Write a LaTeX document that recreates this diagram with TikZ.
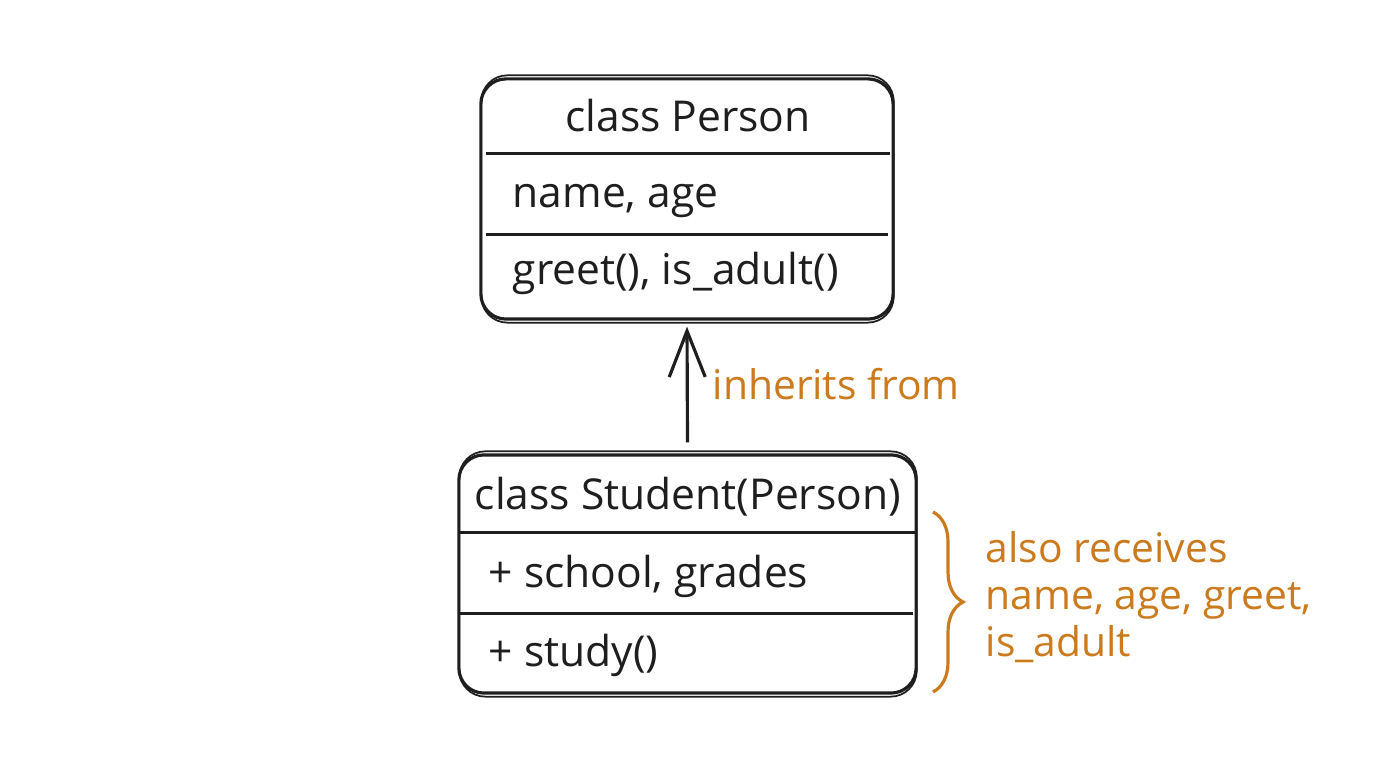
\documentclass[tikz,border=0pt]{standalone}
\usepackage{fontspec}
\setmainfont{Open Sans}
\usetikzlibrary{arrows.meta,decorations.pathreplacing}
\definecolor{ink}{HTML}{1E1E1E}
\definecolor{note}{RGB}{204,122,30}
\tikzset{
  classbox/.style={draw=ink, line width=0.9pt, rounded corners=0.25cm, inner sep=0pt},
  sketch/.style={draw=ink, line width=0.5pt, rounded corners=0.26cm},
  rule/.style={draw=ink, line width=0.8pt},
  member/.style={text=ink, font=\fontsize{12.1}{15}\selectfont, inner sep=0pt},
  remark/.style={text=note, font=\fontsize{11.6}{13.4}\selectfont, inner sep=0pt, align=left}
}
\begin{document}
\begin{tikzpicture}[x=0.01cm, y=-0.01cm]
		% Canvas
		\useasboundingbox[fill=white] (0,0) rectangle (1376,768);
		
		% Class boxes
		\node[classbox, minimum width=4.12cm, minimum height=2.40cm] (person) at (687,199) {};
		\node[classbox, minimum width=4.57cm, minimum height=2.38cm] (student) at (687.5,574) {};
		\draw[sketch] ([shift={(2,-2)}]person.north west) rectangle ([shift={(-1,2)}]person.south east);
		\draw[sketch] ([shift={(2,-2)}]student.north west) rectangle ([shift={(-1,2)}]student.south east);
		
		% Compartment lines
		\draw[rule] ([shift={(7,76)}]person.north west) -- ([shift={(-5,76)}]person.north east);
		\draw[rule] ([shift={(7,157)}]person.north west) -- ([shift={(-7,157)}]person.north east);
		\draw[rule] ([shift={(2,79)}]student.north west) -- ([shift={(-3,79)}]student.north east);
		\draw[rule] ([shift={(2,160)}]student.north west) -- ([shift={(-5,160)}]student.north east);
		
		% Members of Person
		\node[member, anchor=base] (ptitle) at (688,132) {class Person};
		\node[member, anchor=base west] (pattr) at (512,208) {name, age};
		\node[member, anchor=base west] (pmeth) at (512,285) {greet(), is\_adult()};
		
		% Members of Student
		\node[member, anchor=base] (stitle) at (688,510) {class Student(Person)};
		\node[member, anchor=base west] (sattr) at (488,588) {+ school, grades};
		\node[member, anchor=base west] (smeth) at (488,667) {+ study()};
		
		% Inheritance arrow
		\draw[ink, line width=0.9pt, -{Straight Barb[length=0.46cm, width=0.36cm, line width=0.9pt]}]
		  ([yshift=0.11cm]student.north) -- ([yshift=-0.06cm]person.south);
		\node[remark, anchor=base west] (inherit) at (712,400) {inherits from};
		
		% Inherited members (base anchor sits on the last line)
		\coordinate (btop) at (933,512);
		\coordinate (bbot) at (933,692);
		\draw[note, line width=0.9pt, decorate, decoration={brace, amplitude=0.3cm}] (btop) -- (bbot);
		\node[remark, anchor=base west] (extra) at (985,657) {also receives\\name, age, greet,\\is\_adult};
	\end{tikzpicture}
\end{document}
